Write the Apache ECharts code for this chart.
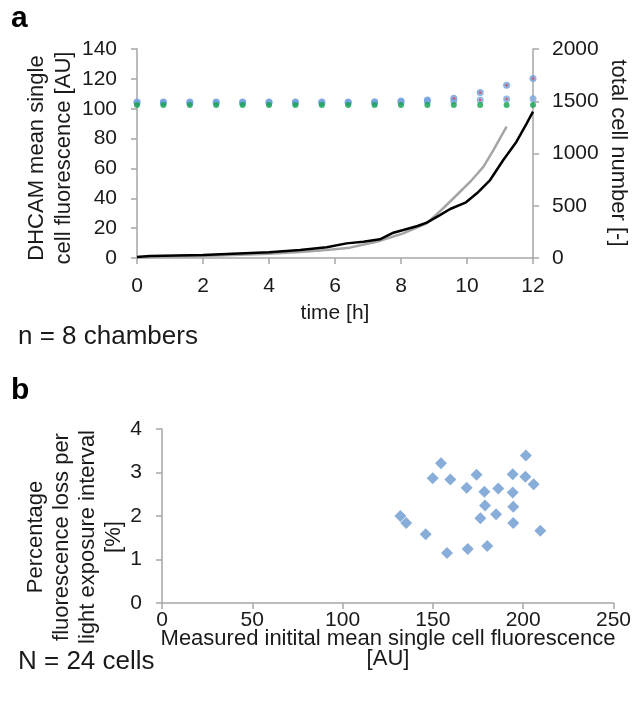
<!DOCTYPE html>
<html>
<head>
<meta charset="utf-8">
<script src="https://cdn.jsdelivr.net/npm/echarts@6/dist/echarts.min.js"></script>
<style>
html,body{margin:0;padding:0;background:#fff;}
#chart{width:634px;height:708px;}
</style>
</head>
<body>
<div id="chart"></div>
<script>
// ---- Panel a data ----
var dotTimes = [0, 0.8, 1.6, 2.4, 3.2, 4.0, 4.8, 5.6, 6.4, 7.2, 8.0, 8.8, 9.6, 10.4, 11.2, 12.0];
var blueUpper = [104.5, 104.5, 104.5, 104.5, 104.5, 104.5, 104.5, 104.5, 104.5, 104.7, 105.2, 105.8, 107, 110.8, 115.7, 120.3];
var blueLower = [104, 104, 104, 104, 104, 104, 104, 104, 104, 104, 104.5, 105, 105.2, 105.8, 106.5, 106.7];
var greenVals = [102.5, 102.5, 102.5, 102.5, 102.5, 102.5, 102.5, 102.5, 102.5, 102.5, 102.5, 102.5, 102.5, 102.5, 102.5, 102.5];
var redTimes = [9.6, 10.4, 10.4, 11.2, 11.2, 12.0];
var redVals = [107, 110.8, 105.8, 115.7, 106.5, 120.3];

var blackTimes = [0, 0.39, 2.0, 2.9, 4.0, 4.94, 5.75, 6.35, 6.86, 7.36, 7.77, 8.07, 8.5, 8.78, 9.18, 9.49, 9.97, 10.3, 10.7, 11.1, 11.5, 11.81, 12.0];
var blackCells = [10, 19, 29, 41, 54, 77, 102, 140, 156, 179, 242, 268, 306, 338, 411, 469, 533, 619, 746, 938, 1113, 1289, 1400];
var grayTimes = [0, 2.0, 4.0, 4.94, 5.75, 6.45, 7.26, 8.07, 8.78, 9.28, 9.69, 10.1, 10.5, 10.8, 11.2];
var grayCells = [10, 19, 41, 57, 77, 99, 156, 236, 332, 476, 603, 730, 874, 1033, 1257];

var timeTicks = {min: 0, max: 12, interval: 2};
var fluoTicks = {min: 0, max: 140, interval: 20};
var cellTicks = {min: 0, max: 2000, interval: 500};

// ---- Panel b data ----
var initFluo = [132, 135.2, 146, 149.9, 154.5, 159.7, 157.8, 168.7, 169.3, 174.2, 176.3, 178.5, 178.9, 180.1, 185, 186.2, 194.2, 194.2, 194.5, 194.5, 201.2, 201.5, 205.8, 209.5];
var lossPct = [2.0, 1.84, 1.58, 2.87, 3.21, 2.84, 1.15, 2.65, 1.24, 2.95, 1.95, 2.56, 2.24, 1.31, 2.04, 2.63, 2.96, 2.54, 2.21, 1.84, 2.90, 3.39, 2.73, 1.66];
var fluoAxis = {min: 0, max: 250, interval: 50};
var lossAxis = {min: 0, max: 4, interval: 1};

function pairs(xs, ys) { return xs.map(function (x, i) { return [x, ys[i]]; }); }

var FONT = 'Liberation Sans, Arial, sans-serif';
var axisCol = '#a6a6a6';
var txtCol = '#1a1a1a';

function axisCommon(extra) {
  var o = {
    type: 'value',
    splitLine: {show: false},
    axisLine: {show: true, onZero: false, lineStyle: {color: axisCol, width: 1.5}},
    axisTick: {show: true, inside: false, length: 6, lineStyle: {color: axisCol, width: 1.5}},
    axisLabel: {color: txtCol, fontFamily: FONT, fontSize: 21, formatter: function (v) { return String(v); }}
  };
  for (var k in extra) {
    if (typeof extra[k] === 'object' && o[k] && !Array.isArray(extra[k])) {
      for (var kk in extra[k]) o[k][kk] = extra[k][kk];
    } else o[k] = extra[k];
  }
  return o;
}

var chart = echarts.init(document.getElementById('chart'), null, {renderer: 'canvas'});

var option = {
  backgroundColor: '#fff',
  animation: false,
  grid: [
    {left: 137, right: 101, top: 49, bottom: 450, containLabel: false},
    {left: 162, right: 20, top: 429, bottom: 105, containLabel: false}
  ],
  xAxis: [
    axisCommon({gridIndex: 0, min: timeTicks.min, max: timeTicks.max, interval: timeTicks.interval,
      axisLabel: {margin: 18}}),
    axisCommon({gridIndex: 1, min: fluoAxis.min, max: fluoAxis.max, interval: fluoAxis.interval,
      axisLabel: {margin: 7}})
  ],
  yAxis: [
    axisCommon({gridIndex: 0, min: fluoTicks.min, max: fluoTicks.max, interval: fluoTicks.interval, position: 'left',
      axisLabel: {margin: 20}}),
    axisCommon({gridIndex: 0, min: cellTicks.min, max: cellTicks.max, interval: cellTicks.interval, position: 'right',
      axisLabel: {margin: 19}}),
    axisCommon({gridIndex: 1, min: lossAxis.min, max: lossAxis.max, interval: lossAxis.interval, position: 'left',
      axisLabel: {margin: 20}})
  ],
  series: [
    {type: 'line', xAxisIndex: 0, yAxisIndex: 1, data: pairs(grayTimes, grayCells), showSymbol: false,
      lineStyle: {color: '#a5a5a5', width: 2.5}, z: 2},
    {type: 'line', xAxisIndex: 0, yAxisIndex: 1, data: pairs(blackTimes, blackCells), showSymbol: false,
      lineStyle: {color: '#000', width: 2.5}, z: 3},
    {type: 'scatter', xAxisIndex: 0, yAxisIndex: 0, data: pairs(dotTimes, blueLower), symbol: 'circle', symbolSize: 7,
      itemStyle: {color: '#7aa6de'}, z: 4},
    {type: 'scatter', xAxisIndex: 0, yAxisIndex: 0, data: pairs(dotTimes, blueUpper), symbol: 'circle', symbolSize: 7,
      itemStyle: {color: '#6f9fdc'}, z: 5},
    {type: 'scatter', xAxisIndex: 0, yAxisIndex: 0, data: pairs(dotTimes, greenVals), symbol: 'circle', symbolSize: 6,
      itemStyle: {color: '#13a24e'}, z: 6},
    {type: 'scatter', xAxisIndex: 0, yAxisIndex: 0, data: pairs(redTimes, redVals), symbol: 'circle', symbolSize: 2.5,
      itemStyle: {color: '#e0454a'}, z: 7},
    {type: 'scatter', xAxisIndex: 1, yAxisIndex: 2, data: pairs(initFluo, lossPct), symbol: 'diamond', symbolSize: [12, 12],
      itemStyle: {color: '#6c98d0'}, z: 4}
  ],
  graphic: [
    {type: 'text', x: 11, y: 19, style: {text: 'a', font: 'bold 30px ' + FONT, fill: '#000', textAlign: 'left', textVerticalAlign: 'middle'}},
    {type: 'text', x: 11, y: 391, style: {text: 'b', font: 'bold 30px ' + FONT, fill: '#000', textAlign: 'left', textVerticalAlign: 'middle'}},
    {type: 'text', x: 50, y: 158, rotation: Math.PI / 2,
      style: {text: 'DHCAM mean single\ncell fluorescence [AU]', font: '22px ' + FONT, fill: txtCol, textAlign: 'center', textVerticalAlign: 'middle', lineHeight: 27}},
    {type: 'text', x: 618, y: 153, rotation: -Math.PI / 2,
      style: {text: 'total cell number [-]', font: '22px ' + FONT, fill: txtCol, textAlign: 'center', textVerticalAlign: 'middle'}},
    {type: 'text', x: 335, y: 313,
      style: {text: 'time [h]', font: '21px ' + FONT, fill: txtCol, textAlign: 'center', textVerticalAlign: 'middle'}},
    {type: 'text', x: 18, y: 337,
      style: {text: 'n = 8 chambers', font: '26px ' + FONT, fill: txtCol, textAlign: 'left', textVerticalAlign: 'middle'}},
    {type: 'text', x: 75, y: 537, rotation: Math.PI / 2,
      style: {text: 'Percentage\nfluorescence loss per\nlight exposure interval\n[%]', font: '22px ' + FONT, fill: txtCol, textAlign: 'center', textVerticalAlign: 'middle', lineHeight: 26}},
    {type: 'text', x: 388, y: 649,
      style: {text: 'Measured initital mean single cell fluorescence\n[AU]', font: '22px ' + FONT, fill: txtCol, textAlign: 'center', textVerticalAlign: 'middle', lineHeight: 20}},
    {type: 'text', x: 18, y: 662,
      style: {text: 'N = 24 cells', font: '26px ' + FONT, fill: txtCol, textAlign: 'left', textVerticalAlign: 'middle'}}
  ]
};
chart.setOption(option);
</script>
</body>
</html>
